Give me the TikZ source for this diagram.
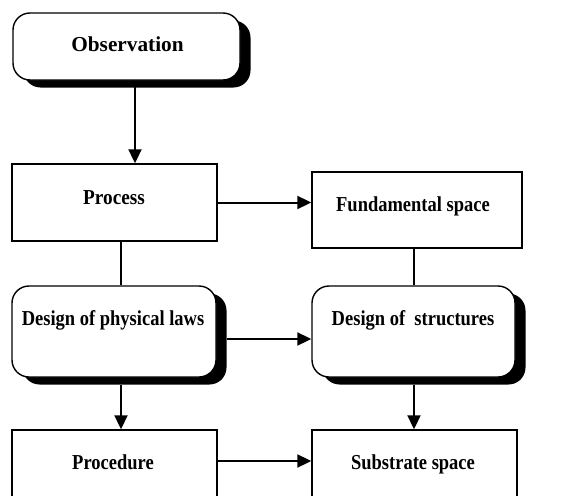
\documentclass[tikz,border=0pt]{standalone}
\usepackage{fontspec}
\setmainfont{Liberation Serif}
\usetikzlibrary{arrows.meta}
\newcommand{\lbl}[2][1]{\scalebox{#1}[1.15]{\fontsize{18.5}{20}\selectfont\bfseries #2}}
\begin{document}
\begin{tikzpicture}[x=1pt,y=-1pt,
  box/.style={draw,line width=1.4pt,fill=white,inner sep=0pt},
  roundbox/.style={box,rounded corners=17pt},
  shade/.style={fill=black,rounded corners=17pt,inner sep=0pt},
  txt/.style={inner sep=0pt,anchor=base},
  link/.style={line width=2pt},
  arrow/.style={link,-{Triangle[length=14pt,width=13pt]}}]
\useasboundingbox (0,0) rectangle (583,495);
\clip (0,0) rectangle (583,495);
% rounded boxes with drop shadows
\node[shade,minimum width=227pt,minimum height=67pt] (obssh) at (137,54) {};
\node[roundbox,minimum width=227pt,minimum height=67pt] (obs) at (126.5,46.5) {};
\node[txt] (obst) at (127.5,52) {\lbl[1.15]{Observation}};
\node[shade,minimum width=204pt,minimum height=91pt] (dplsh) at (124.5,339) {};
\node[roundbox,minimum width=204pt,minimum height=91pt] (dpl) at (114,331.5) {};
\node[txt] (dplt) at (113,325) {\lbl{Design of physical laws}};
\node[shade,minimum width=203pt,minimum height=91pt] (dssh) at (424,339) {};
\node[roundbox,minimum width=203pt,minimum height=91pt] (ds) at (413.5,331.5) {};
\node[txt] (dst) at (413,325) {\lbl{Design of \ structures}};
% plain boxes
\node[box,minimum width=205pt,minimum height=77pt] (proc) at (114.5,202.5) {};
\node[txt] (proct) at (114,204) {\lbl[1.04]{Process}};
\node[box,minimum width=210pt,minimum height=76pt] (fund) at (417,210) {};
\node[txt] (fundt) at (413,211) {\lbl{Fundamental space}};
\node[box,minimum width=205pt,minimum height=80pt] (pro) at (114.5,470) {};
\node[txt] (prot) at (113,469.5) {\lbl{Procedure}};
\node[box,minimum width=205pt,minimum height=80pt] (sub) at (414.5,470) {};
\node[txt] (subt) at (413,469.5) {\lbl{Substrate space}};
% connectors
\draw[arrow] ([xshift=8.5pt]obs.south) -- ([xshift=8.5pt]obs.south |- proc.north);
\draw[arrow] (proc.east) -- (proc.east -| fund.west);
\draw[link] ([xshift=6.5pt]proc.south) -- ([xshift=6.5pt]proc.south |- dpl.north);
\draw[link] ([xshift=-3pt]fund.south) -- ([xshift=-3pt]fund.south |- ds.north);
\draw[arrow] (dplsh.east) -- (dplsh.east -| ds.west);
\draw[arrow] ([xshift=7pt]dpl.south |- dplsh.south) -- ([xshift=6.5pt]pro.north);
\draw[arrow] ([xshift=0.5pt]ds.south |- dssh.south) -- ([xshift=0.5pt]ds.south |- sub.north);
\draw[arrow] ([yshift=9pt]pro.east) -- ([yshift=9pt]pro.east -| sub.west);
\end{tikzpicture}
\end{document}
